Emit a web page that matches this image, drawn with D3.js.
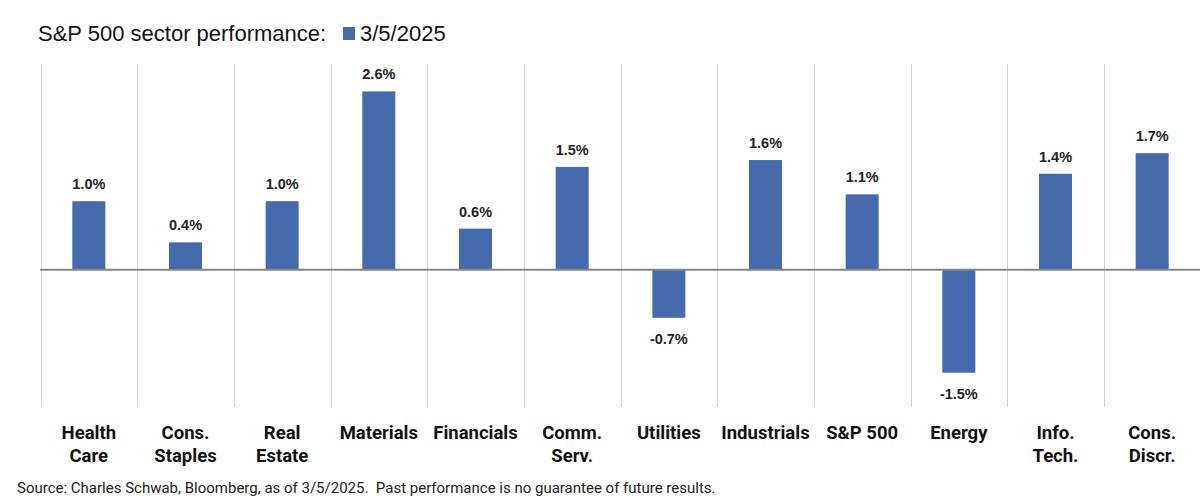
<!DOCTYPE html>
<html>
<head>
<meta charset="utf-8">
<title>S&amp;P 500 sector performance</title>
<script src="https://cdn.jsdelivr.net/npm/d3@7"></script>
<style>
    body { margin: 0; background: #fff; }
    .title { font-family: "Liberation Sans", Arial, sans-serif; font-size: 22px; fill: #111; }
    .cat { font-family: Roboto, "Liberation Sans", sans-serif; font-weight: bold; font-size: 18.5px; fill: #111; }
    .val { font-family: "Liberation Sans", Arial, sans-serif; font-weight: bold; font-size: 14.5px; fill: #222; }
    .src { font-family: Roboto, "Liberation Sans", sans-serif; font-size: 15px; fill: #222; }
</style>
</head>
<body>
<div id="chart"></div>
<script>

    var sectors = [["Health", "Care"], ["Cons.", "Staples"], ["Real", "Estate"], ["Materials"], ["Financials"],
                   ["Comm.", "Serv."], ["Utilities"], ["Industrials"], ["S&P 500"], ["Energy"], ["Info.", "Tech."], ["Cons.", "Discr."]];
    var values = [1.0, 0.4, 1.0, 2.6, 0.6, 1.5, -0.7, 1.6, 1.1, -1.5, 1.4, 1.7];
    var seriesName = "3/5/2025";

    var width = 1200, height = 502;
    var barColor = "#456bad";

    var svg = d3.select("#chart").append("svg")
        .attr("width", width)
        .attr("height", height);

    var x = d3.scaleBand()
        .domain(d3.range(values.length))
        .range([40.5, 1200.5]);

    var y = d3.scaleLinear()
        .domain([-2, 3])
        .range([407, 64]);

    // vertical category separators
    svg.selectAll("line.grid")
        .data(d3.range(values.length))
        .enter().append("line")
            .attr("class", "grid")
            .attr("x1", function(d) { return Math.round(x(d)) + 0.5; })
            .attr("x2", function(d) { return Math.round(x(d)) + 0.5; })
            .attr("y1", y(3))
            .attr("y2", y(-2))
            .attr("stroke", "#d0d0d0")
            .attr("stroke-width", 1);

    var barW = 33;

    svg.selectAll("rect.bar")
        .data(values)
        .enter().append("rect")
            .attr("class", "bar")
            .attr("x", function(d, i) { return x(i) + x.bandwidth() / 2 - barW / 2; })
            .attr("y", function(d) { return y(Math.max(0, d)); })
            .attr("width", barW)
            .attr("height", function(d) { return Math.abs(y(d) - y(0)); })
            .attr("fill", barColor);

    // zero line
    svg.append("line")
        .attr("x1", 40)
        .attr("x2", 1200)
        .attr("y1", y(0))
        .attr("y2", y(0))
        .attr("stroke", "#858585")
        .attr("stroke-width", 2);

    svg.selectAll("text.val")
        .data(values)
        .enter().append("text")
            .attr("class", "val")
            .attr("text-anchor", "middle")
            .attr("x", function(d, i) { return x(i) + x.bandwidth() / 2; })
            .attr("y", function(d) { return d >= 0 ? y(d) - 12 : y(d) + 26; })
            .text(function(d) { return d.toFixed(1) + "%"; });

    var cats = svg.selectAll("text.cat")
        .data(sectors)
        .enter().append("text")
            .attr("class", "cat")
            .attr("text-anchor", "middle")
            .attr("x", function(d, i) { return x(i) + x.bandwidth() / 2; })
            .attr("y", 439);

    cats.selectAll("tspan")
        .data(function(d) { return d; })
        .enter().append("tspan")
            .attr("x", function() { return d3.select(this.parentNode).attr("x"); })
            .attr("dy", function(d, i) { return i ? 23 : 0; })
            .text(function(d) { return d; });

    // title + legend
    svg.append("text")
        .attr("class", "title")
        .attr("x", 38)
        .attr("y", 41)
        .text("S&P 500 sector performance:");

    svg.append("rect")
        .attr("x", 343)
        .attr("y", 27)
        .attr("width", 12)
        .attr("height", 13)
        .attr("fill", barColor);

    svg.append("text")
        .attr("class", "title")
        .attr("x", 360)
        .attr("y", 41)
        .text(seriesName);

    svg.append("text")
        .attr("class", "src")
        .attr("x", 17)
        .attr("y", 493)
        .attr("xml:space", "preserve")
        .style("white-space", "pre")
        .text("Source: Charles Schwab, Bloomberg, as of 3/5/2025.  Past performance is no guarantee of future results.");

</script>
</body>
</html>
